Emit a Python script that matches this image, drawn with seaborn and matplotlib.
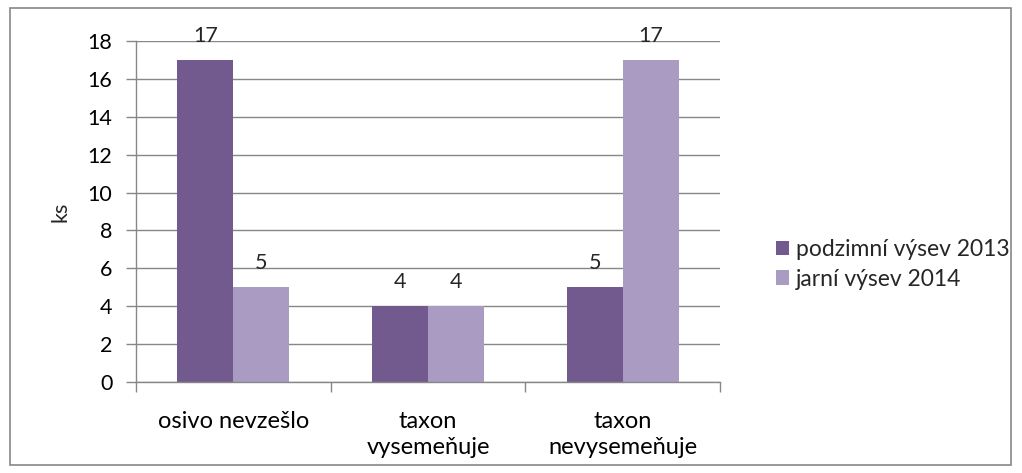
import matplotlib
matplotlib.use("Agg")
import matplotlib.pyplot as plt
import seaborn as sns
import pandas as pd
from matplotlib.patches import Rectangle

categories = ["osivo nevzešlo", "taxon\nvysemeňuje", "taxon\nnevysemeňuje"]
series_names = ["podzimní výsev 2013", "jarní výsev 2014"]
autumn_2013 = [17, 4, 5]
spring_2014 = [5, 4, 17]
y_ticks = [0, 2, 4, 6, 8, 10, 12, 14, 16, 18]

colors = ["#725A8F", "#A99BC1"]
grid_col = "#878787"

df = pd.DataFrame({
    "cat": categories * 2,
    "series": [series_names[0]] * 3 + [series_names[1]] * 3,
    "val": autumn_2013 + spring_2014,
})

sns.set_theme(style="white")
plt.rcParams["font.family"] = ["Lato", "DejaVu Sans"]

FS = 15.5
fig = plt.figure(figsize=(10.22, 4.73), dpi=100)
ax = fig.add_axes([136/1022, 1 - 382/473, (720-136)/1022, (382-41)/473])

sns.barplot(data=df, x="cat", y="val", hue="series", palette=colors,
            width=0.574, gap=0, ax=ax, saturation=1, legend=True,
            edgecolor="none", linewidth=0)

ax.set_xlim(-0.5, 2.5)
ax.set_ylim(0, 18)
ax.set_yticks(y_ticks)
ax.set_yticklabels([str(t) for t in y_ticks], fontsize=FS, color="black")
ax.yaxis.grid(True, color=grid_col, linewidth=1)
ax.set_axisbelow(True)
ax.tick_params(axis="y", length=7, width=1, color=grid_col, direction="out", pad=10, left=True)
ax.set_xticks([0, 1, 2])
ax.set_xticklabels(categories, fontsize=17, color="black", linespacing=1.3)
ax.tick_params(axis="x", which="major", length=0, pad=21)
ax.set_xticks([-0.5, 0.5, 1.5, 2.5], minor=True)
ax.tick_params(axis="x", which="minor", length=7, width=1, color=grid_col, direction="out", bottom=True)
for s in ["top", "right"]:
    ax.spines[s].set_visible(False)
for s in ["left", "bottom"]:
    ax.spines[s].set_color(grid_col)
    ax.spines[s].set_linewidth(1)
ax.set_xlabel("")
ax.set_ylabel("ks", fontsize=FS, labelpad=12)

for cont in ax.containers:
    ax.bar_label(cont, fmt="%d", fontsize=FS, padding=10)

leg = ax.legend(loc="center left", bbox_to_anchor=(1.06, 0.345), frameon=False,
                fontsize=16.5, handlelength=0.6, handleheight=0.6, handletextpad=0.3,
                labelspacing=0.38)

fig.patches.append(Rectangle((10/1022, 8/473), 1001/1022, 457/473, transform=fig.transFigure,
                             fill=False, edgecolor=grid_col, linewidth=1.2))

fig.savefig("out.png", dpi=100)
